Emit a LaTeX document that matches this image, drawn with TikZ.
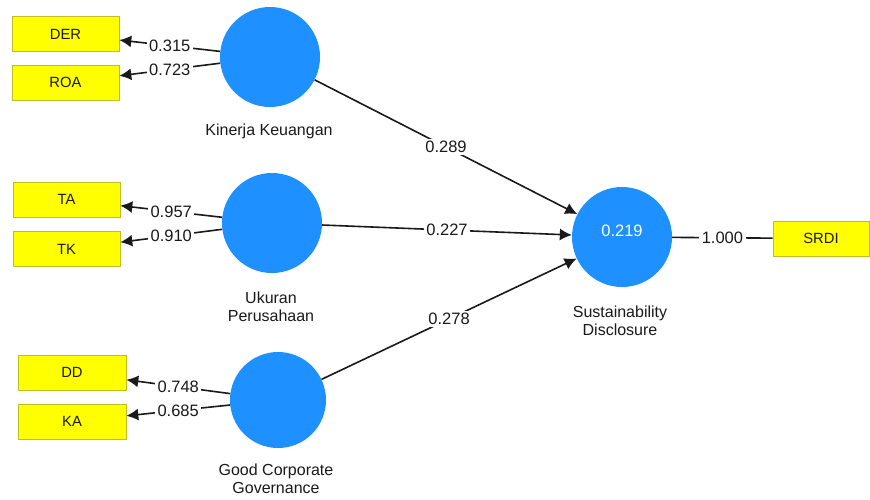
\documentclass[tikz,border=0pt]{standalone}
\usepackage{fontspec}
\setmainfont{Liberation Sans}
\usetikzlibrary{arrows.meta}
\definecolor{lvblue}{RGB}{30,144,255}
\definecolor{mvyellow}{RGB}{255,255,0}
\definecolor{mvborder}{RGB}{190,190,40}
\definecolor{ink}{RGB}{26,26,26}
\tikzset{
  lv/.style={circle, fill=lvblue, draw=none, minimum size=100pt, inner sep=0pt, text=white, font=\fontsize{15}{18}\selectfont},
  mv/.style={rectangle, fill=mvyellow, draw=mvborder, line width=0.6pt, minimum width=107pt, minimum height=35pt, inner sep=0pt, text=ink, font=\fontsize{14.8}{17}\selectfont},
  lvlabel/.style={align=center, text=ink, font=\fontsize{16}{18}\selectfont},
  coef/.style={fill=white, inner sep=2.5pt, text=ink, font=\fontsize{16.5}{18}\selectfont},
  conn/.style={draw=ink, line width=1.6pt},
  arr/.style={conn, -{Latex[length=12pt,width=12pt]}}
}
\begin{document}
\begin{tikzpicture}[x=1pt,y=-1pt]
\fill[white] (0,0) rectangle (870,499);
\useasboundingbox (0,0) rectangle (870,499);
% latent variables
\node[lv] (kk) at (270,57) {};
\node[lv] (up) at (272,223) {};
\node[lv, minimum size=96pt] (gcg) at (278,400) {};
\node[lv] (sd) at (622,237) {};
\node[text=white, font=\fontsize{16.5}{18}\selectfont] (r2) at (622,231) {0.219};
% labels of latent variables
\node[lvlabel] (kkl) at (269,131) {Kinerja Keuangan};
\node[lvlabel] (upl) at (271,307) {Ukuran\\Perusahaan};
\node[lvlabel] (sdl) at (620,321) {Sustainability\\Disclosure};
\node[lvlabel] (gcgl) at (276,479) {Good Corporate\\Governance};
% indicators
\node[mv] (der) at (65.5,34) {DER};
\node[mv] (roa) at (65.5,82.5) {ROA};
\node[mv] (ta) at (66.5,199.5) {TA};
\node[mv] (tk) at (66.5,249) {TK};
\node[mv, minimum width=108pt] (dd) at (72,372.5) {DD};
\node[mv, minimum width=108pt] (ka) at (72,421.5) {KA};
\node[mv, minimum width=96pt] (srdi) at (821,238.5) {SRDI};
% outer loadings
\draw[arr] (kk) -- node[coef] (l1) {0.315} (der);
\draw[arr] (kk) -- node[coef] (l2) {0.723} (roa);
\draw[arr] (up) -- node[coef] (l3) {0.957} (ta);
\draw[arr] (up) -- node[coef] (l4) {0.910} (tk);
\draw[arr] (gcg) -- node[coef] (l5) {0.748} (dd);
\draw[arr] (gcg) -- node[coef] (l6) {0.685} (ka);
\draw[conn] (sd) -- node[coef] (l7) {1.000} (srdi);
% path coefficients
\draw[arr] (kk) -- node[coef] (p1) {0.289} (sd);
\draw[arr] (up) -- node[coef] (p2) {0.227} (sd);
\draw[arr] (gcg) -- node[coef] (p3) {0.278} (sd);
\end{tikzpicture}
\end{document}
